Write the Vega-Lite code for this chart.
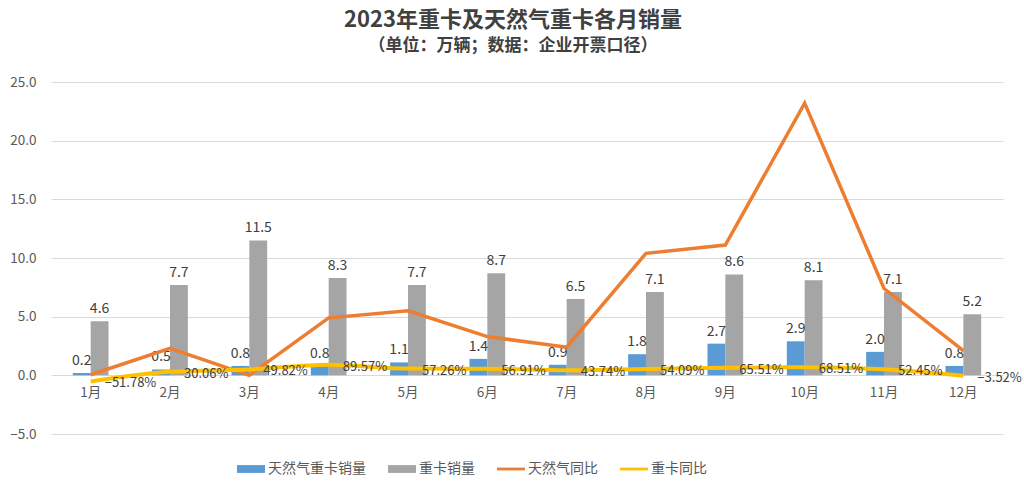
{
  "$schema": "https://vega.github.io/schema/vega-lite/v6.json",
  "autosize": {"type": "none"},
  "padding": {"left": 51, "top": 82, "right": 21, "bottom": 48},
  "width": 952,
  "height": 352,
  "background": "white",
  "title": {
    "text": "2023年重卡及天然气重卡各月销量",
    "subtitle": "（单位：万辆；数据：企业开票口径）",
    "anchor": "middle",
    "dx": -14,
    "offset": 20,
    "fontSize": 22,
    "fontWeight": "bold",
    "color": "#404040",
    "subtitleFontSize": 17,
    "subtitleFontWeight": "bold",
    "subtitleColor": "#404040",
    "subtitlePadding": 6,
    "font": "Noto Sans CJK SC",
    "subtitleFont": "Noto Sans CJK SC"
  },
  "data": {
    "values": [
      {"m": "1月", "s": "天然气重卡销量", "v": 0.2},
      {"m": "2月", "s": "天然气重卡销量", "v": 0.5},
      {"m": "3月", "s": "天然气重卡销量", "v": 0.8},
      {"m": "4月", "s": "天然气重卡销量", "v": 0.8},
      {"m": "5月", "s": "天然气重卡销量", "v": 1.1},
      {"m": "6月", "s": "天然气重卡销量", "v": 1.4},
      {"m": "7月", "s": "天然气重卡销量", "v": 0.9},
      {"m": "8月", "s": "天然气重卡销量", "v": 1.8},
      {"m": "9月", "s": "天然气重卡销量", "v": 2.7},
      {"m": "10月", "s": "天然气重卡销量", "v": 2.9},
      {"m": "11月", "s": "天然气重卡销量", "v": 2.0},
      {"m": "12月", "s": "天然气重卡销量", "v": 0.8},
      {"m": "1月", "s": "重卡销量", "v": 4.6},
      {"m": "2月", "s": "重卡销量", "v": 7.7},
      {"m": "3月", "s": "重卡销量", "v": 11.5},
      {"m": "4月", "s": "重卡销量", "v": 8.3},
      {"m": "5月", "s": "重卡销量", "v": 7.7},
      {"m": "6月", "s": "重卡销量", "v": 8.7},
      {"m": "7月", "s": "重卡销量", "v": 6.5},
      {"m": "8月", "s": "重卡销量", "v": 7.1},
      {"m": "9月", "s": "重卡销量", "v": 8.6},
      {"m": "10月", "s": "重卡销量", "v": 8.1},
      {"m": "11月", "s": "重卡销量", "v": 7.1},
      {"m": "12月", "s": "重卡销量", "v": 5.2},
      {"m": "1月", "s": "天然气同比", "v": 0.05},
      {"m": "2月", "s": "天然气同比", "v": 2.3},
      {"m": "3月", "s": "天然气同比", "v": 0.0},
      {"m": "4月", "s": "天然气同比", "v": 4.9},
      {"m": "5月", "s": "天然气同比", "v": 5.5},
      {"m": "6月", "s": "天然气同比", "v": 3.3},
      {"m": "7月", "s": "天然气同比", "v": 2.4},
      {"m": "8月", "s": "天然气同比", "v": 10.4},
      {"m": "9月", "s": "天然气同比", "v": 11.1},
      {"m": "10月", "s": "天然气同比", "v": 23.2},
      {"m": "11月", "s": "天然气同比", "v": 7.4},
      {"m": "12月", "s": "天然气同比", "v": 2.1},
      {"m": "1月", "s": "重卡同比", "v": -0.5178},
      {"m": "2月", "s": "重卡同比", "v": 0.3006},
      {"m": "3月", "s": "重卡同比", "v": 0.4982},
      {"m": "4月", "s": "重卡同比", "v": 0.8957},
      {"m": "5月", "s": "重卡同比", "v": 0.5726},
      {"m": "6月", "s": "重卡同比", "v": 0.5691},
      {"m": "7月", "s": "重卡同比", "v": 0.4374},
      {"m": "8月", "s": "重卡同比", "v": 0.5409},
      {"m": "9月", "s": "重卡同比", "v": 0.6551},
      {"m": "10月", "s": "重卡同比", "v": 0.6851},
      {"m": "11月", "s": "重卡同比", "v": 0.5245},
      {"m": "12月", "s": "重卡同比", "v": -0.0352}
    ]
  },
  "encoding": {
    "x": {
      "field": "m",
      "type": "nominal",
      "sort": null,
      "scale": {"paddingInner": 0.55, "paddingOuter": 0.275},
      "axis": {
        "title": null,
        "orient": "bottom",
        "offset": -58.67,
        "domain": false,
        "ticks": false,
        "tickSize": 0,
        "labelAngle": 0,
        "labelPadding": 10,
        "labelFontSize": 13.5,
        "labelColor": "#595959",
        "grid": false
      }
    },
    "y": {
      "field": "v",
      "type": "quantitative",
      "scale": {"domain": [-5, 25], "nice": false, "zero": false},
      "axis": {
        "title": null,
        "values": [-5, 0, 5, 10, 15, 20, 25],
        "format": ".1f",
        "domain": false,
        "ticks": false,
        "tickSize": 0,
        "labelPadding": 15,
        "labelFontSize": 13.5,
        "labelColor": "#595959",
        "grid": true,
        "gridColor": "#D9D9D9",
        "gridWidth": 1
      }
    }
  },
  "layer": [
    {
      "transform": [{"filter": "datum.s == '天然气重卡销量' || datum.s == '重卡销量'"}],
      "mark": {"type": "bar"},
      "encoding": {
        "xOffset": {
          "field": "s",
          "type": "nominal",
          "scale": {"domain": ["天然气重卡销量", "重卡销量"], "paddingInner": 0, "paddingOuter": 0}
        },
        "color": {
          "field": "s",
          "type": "nominal",
          "scale": {
            "domain": ["天然气重卡销量", "重卡销量", "天然气同比", "重卡同比"],
            "range": ["#5B9BD5", "#A5A5A5", "#ED7D31", "#FFC000"]
          },
          "legend": {
            "title": null,
            "orient": "none",
            "legendX": 186,
            "legendY": 373,
            "direction": "horizontal",
            "encode": {
              "symbols": {
                "update": {
                  "shape": {"signal": "(datum.value == '天然气同比' || datum.value == '重卡同比') ? 'M-1,-0.1H1V0.1H-1Z' : 'M-1,-0.28H1V0.28H-1Z'"},
                  "fill": {"signal": "scale('color', datum.value)"},
                  "strokeWidth": {"value": 0},
                  "opacity": {"value": 1}
                }
              }
            }
          }
        }
      }
    },
    {
      "transform": [{"filter": "datum.s == '天然气重卡销量' || datum.s == '重卡销量'"}],
      "mark": {"type": "text", "baseline": "bottom", "dy": -5, "fontSize": 14, "color": "#404040"},
      "encoding": {
        "xOffset": {"field": "s", "type": "nominal"},
        "text": {"field": "v", "type": "quantitative", "format": ".1f"}
      }
    },
    {
      "transform": [{"filter": "datum.s == '天然气同比'"}],
      "mark": {"type": "line", "strokeWidth": 3.5},
      "encoding": {
        "color": {
          "field": "s",
          "type": "nominal",
          "legend": {
            "title": null,
            "orient": "none",
            "legendX": 186,
            "legendY": 373,
            "direction": "horizontal",
            "encode": {
              "symbols": {
                "update": {
                  "shape": {"signal": "(datum.value == '天然气同比' || datum.value == '重卡同比') ? 'M-1,-0.1H1V0.1H-1Z' : 'M-1,-0.28H1V0.28H-1Z'"},
                  "fill": {"signal": "scale('color', datum.value)"},
                  "strokeWidth": {"value": 0},
                  "opacity": {"value": 1}
                }
              }
            }
          }
        }
      }
    },
    {
      "transform": [{"filter": "datum.s == '重卡同比'"}],
      "mark": {"type": "line", "strokeWidth": 4, "interpolate": "monotone"},
      "encoding": {
        "color": {
          "field": "s",
          "type": "nominal",
          "legend": {
            "title": null,
            "orient": "none",
            "legendX": 186,
            "legendY": 373,
            "direction": "horizontal",
            "encode": {
              "symbols": {
                "update": {
                  "shape": {"signal": "(datum.value == '天然气同比' || datum.value == '重卡同比') ? 'M-1,-0.1H1V0.1H-1Z' : 'M-1,-0.28H1V0.28H-1Z'"},
                  "fill": {"signal": "scale('color', datum.value)"},
                  "strokeWidth": {"value": 0},
                  "opacity": {"value": 1}
                }
              }
            }
          }
        }
      }
    },
    {
      "transform": [{"filter": "datum.s == '重卡同比'"}],
      "mark": {"type": "text", "align": "left", "baseline": "middle", "dx": 14, "dy": 2, "fontSize": 13, "color": "#404040"},
      "encoding": {
        "text": {"field": "v", "type": "quantitative", "format": ".2%"}
      }
    }
  ],
  "config": {
    "font": "Noto Sans CJK SC",
    "view": {"stroke": null},
    "legend": {
      "labelFontSize": 14,
      "labelColor": "#595959",
      "labelFont": "Noto Sans CJK SC",
      "symbolSize": 784,
      "labelOffset": 3,
      "columnPadding": 22,
      "symbolStrokeWidth": 0,
      "labelLimit": 300
    }
  }
}
